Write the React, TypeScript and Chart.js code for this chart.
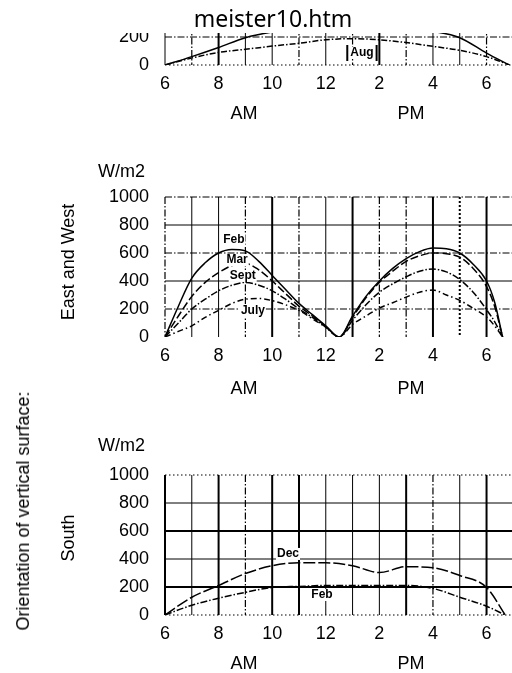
import React, { useEffect, useRef } from "react";
import { Chart, registerables } from "chart.js";
Chart.register(...registerables);

const FONT = "'Liberation Sans', Arial, sans-serif";

// Axis ticks
const xTickHours = [6, 8, 10, 12, 14, 16, 18];
const xTickLabels = ["6", "8", "10", "12", "2", "4", "6"];
const yTickValues = [0, 200, 400, 600, 800, 1000];
const yTickLabels = ["0", "200", "400", "600", "800", "1000"];
const gridHours = [6, 7, 8, 9, 10, 11, 12, 13, 14, 15, 16, 17, 18];

// Top panel (cropped) - August
const topHours = [6, 7, 8, 9, 10, 11, 12, 13, 14, 15, 16, 17, 18, 18.85];
const augSolid = [0, 60, 125, 195, 235, 260, 275, 280, 275, 265, 240, 195, 85, 0];
const augDashed = [0, 50, 90, 112, 135, 155, 180, 188, 180, 160, 133, 105, 60, 0];

// East and West
const ewHours = [6, 6.5, 7, 7.5, 8, 8.5, 9, 9.5, 10, 10.5, 11, 11.5, 12, 12.5, 13, 13.5, 14, 14.5, 15, 15.5, 16, 16.5, 17, 17.5, 18, 18.3, 18.6];
const ewFeb = [0, 220, 420, 530, 600, 625, 615, 540, 440, 340, 240, 160, 80, 0, 150, 290, 400, 490, 560, 610, 635, 630, 600, 520, 400, 250, 0];
const ewMar = [0, 150, 290, 390, 460, 510, 525, 480, 400, 310, 220, 150, 75, 0, 140, 280, 390, 470, 540, 580, 600, 595, 570, 490, 360, 220, 0];
const ewSept = [0, 100, 200, 270, 330, 370, 390, 370, 330, 270, 200, 140, 70, 0, 120, 230, 320, 380, 430, 470, 485, 465, 410, 320, 195, 110, 0];
const ewJuly = [0, 40, 80, 140, 190, 240, 270, 275, 260, 230, 190, 130, 70, 0, 90, 150, 207, 245, 285, 320, 335, 300, 262, 205, 143, 80, 0];

// South
const southHours = [6, 7, 8, 9, 10, 11, 12, 13, 14, 15, 16, 17, 18, 18.7];
const southDec = [0, 127, 211, 296, 352, 373, 373, 352, 303, 345, 338, 282, 197, 0];
const southFeb = [0, 70, 120, 162, 197, 204, 211, 211, 211, 211, 190, 127, 63, 0];

type GridStyle = "solid" | "thick" | "dashdot" | "dot" | "dotthick";
const DASH: Record<GridStyle, number[]> = {
  solid: [],
  thick: [],
  dashdot: [7, 2, 1.5, 2],
  dot: [1.5, 2.5],
  dotthick: [2, 2],
};
const WIDTH: Record<GridStyle, number> = {
  solid: 1,
  thick: 2,
  dashdot: 1.2,
  dot: 1.2,
  dotthick: 2,
};

const pts = (xs: number[], ys: number[]) => xs.map((x, i) => ({ x, y: ys[i] }));

function gridPlugin(vStyles: GridStyle[], hStyles: GridStyle[]) {
  return {
    id: "scanGrid",
    beforeDatasetsDraw(chart: any) {
      const { ctx, chartArea: a, scales } = chart;
      const x = scales.x;
      const y = scales.y;
      ctx.save();
      ctx.strokeStyle = "#000";
      gridHours.forEach((h, i) => {
        const s = vStyles[i];
        if (!s) return;
        const px = x.getPixelForValue(h);
        ctx.lineWidth = WIDTH[s];
        ctx.setLineDash(DASH[s]);
        ctx.beginPath();
        ctx.moveTo(px, a.top);
        ctx.lineTo(px, a.bottom);
        ctx.stroke();
      });
      yTickValues.forEach((v, i) => {
        const s = hStyles[i];
        if (!s) return;
        const py = y.getPixelForValue(v);
        ctx.lineWidth = WIDTH[s];
        ctx.setLineDash(DASH[s]);
        ctx.beginPath();
        ctx.moveTo(a.left, py);
        ctx.lineTo(a.right, py);
        ctx.stroke();
      });
      ctx.restore();
    },
  };
}

type Note = { text: string; x: number; y: number; box?: boolean };
function notePlugin(notes: Note[]) {
  return {
    id: "notes",
    afterDatasetsDraw(chart: any) {
      const { ctx, scales } = chart;
      ctx.save();
      ctx.font = `bold 12px ${FONT}`;
      ctx.textAlign = "center";
      ctx.textBaseline = "middle";
      notes.forEach((n) => {
        const px = scales.x.getPixelForValue(n.x);
        const py = scales.y.getPixelForValue(n.y);
        const w = ctx.measureText(n.text).width;
        ctx.fillStyle = "#fff";
        ctx.fillRect(px - w / 2 - 1, py - 6, w + 2, 12);
        if (n.box) {
          ctx.strokeStyle = "#000";
          ctx.lineWidth = 2;
          ctx.setLineDash([]);
          ctx.beginPath();
          ctx.moveTo(px - w / 2 - 3, py - 8);
          ctx.lineTo(px - w / 2 - 3, py + 8);
          ctx.moveTo(px + w / 2 + 3, py - 8);
          ctx.lineTo(px + w / 2 + 3, py + 8);
          ctx.stroke();
        }
        ctx.fillStyle = "#000";
        ctx.fillText(n.text, px, py);
      });
      ctx.restore();
    },
  };
}

function line(xs: number[], ys: number[], dash: number[], width = 1.5) {
  return {
    data: pts(xs, ys),
    borderColor: "#000",
    borderWidth: width,
    borderDash: dash,
    pointRadius: 0,
    cubicInterpolationMode: "monotone" as const,
    fill: false,
  };
}

function makeConfig(datasets: any[], vStyles: GridStyle[], hStyles: GridStyle[], notes: Note[]) {
  const tickFont = { family: FONT, size: 18 };
  return {
    type: "line" as const,
    data: { datasets },
    options: {
      animation: false,
      responsive: false,
      maintainAspectRatio: false,
      events: [],
      layout: { padding: { top: 47, left: 0, right: 0, bottom: 0 } },
      plugins: { legend: { display: false }, tooltip: { enabled: false } },
      scales: {
        x: {
          type: "linear",
          min: 6,
          max: 18.95,
          grid: { display: false, drawTicks: false },
          border: { display: false },
          afterBuildTicks: (s: any) => {
            s.ticks = xTickHours.map((v) => ({ value: v }));
          },
          afterFit: (s: any) => {
            s.height = 43;
          },
          ticks: {
            autoSkip: false,
            maxRotation: 0,
            padding: 8,
            color: "#000",
            font: tickFont,
            callback: (v: number) => {
              const i = xTickHours.indexOf(v);
              return i >= 0 ? xTickLabels[i] : "";
            },
          },
        },
        y: {
          type: "linear",
          min: 0,
          max: 1000,
          grid: { display: false, drawTicks: false },
          border: { display: false },
          afterBuildTicks: (s: any) => {
            s.ticks = yTickValues.map((v) => ({ value: v }));
          },
          afterFit: (s: any) => {
            s.width = 165;
          },
          ticks: {
            padding: 16,
            color: "#000",
            font: tickFont,
            callback: (v: number) => {
              const i = yTickValues.indexOf(v);
              return i >= 0 ? yTickLabels[i] : "";
            },
          },
        },
      },
    },
    plugins: [gridPlugin(vStyles, hStyles), notePlugin(notes)],
  };
}

function Panel({ config, top }: { config: any; top: number }) {
  const ref = useRef<HTMLCanvasElement>(null);
  useEffect(() => {
    const chart = new Chart(ref.current as HTMLCanvasElement, config);
    return () => chart.destroy();
  }, [config]);
  return (
    <canvas
      ref={ref}
      width={512}
      height={230}
      style={{ position: "absolute", left: 0, top, width: 512, height: 230 }}
    />
  );
}

const topConfig = makeConfig(
  [line(topHours, augSolid, []), line(topHours, augDashed, [6, 2, 1.5, 2])],
  ["solid", "dashdot", "thick", "solid", "solid", "dashdot", "solid", "dashdot", "thick", "dashdot", "solid", "solid", "dashdot"],
  ["dot", "dashdot", "dashdot", "solid", "dashdot", "dashdot"],
  [{ text: "Aug", x: 13.35, y: 86, box: true }]
);

const ewConfig = makeConfig(
  [
    line(ewHours, ewFeb, []),
    line(ewHours, ewMar, [8, 3]),
    line(ewHours, ewSept, [7, 2, 1.5, 2]),
    line(ewHours, ewJuly, [6, 3, 1.5, 3]),
  ],
  ["dashdot", "solid", "solid", "dashdot", "thick", "dashdot", "solid", "thick", "dashdot", "dashdot", "thick", "dotthick", "thick"],
  [undefined as any, "dashdot", "solid", "dashdot", "solid", "dashdot"],
  [
    { text: "Feb", x: 8.57, y: 693 },
    { text: "Mar", x: 8.69, y: 550 },
    { text: "Sept", x: 8.9, y: 436 },
    { text: "July", x: 9.28, y: 186 },
  ]
);

const southConfig = makeConfig(
  [line(southHours, southDec, [12, 3]), line(southHours, southFeb, [7, 2, 1.5, 2])],
  ["thick", "solid", "thick", "dashdot", "thick", "thick", "solid", "solid", "solid", "thick", "dashdot", "solid", "thick"],
  ["dot", "thick", "solid", "thick", "solid", "dot"],
  [
    { text: "Dec", x: 10.59, y: 436 },
    { text: "Feb", x: 11.86, y: 143 },
  ]
);

const txt = (extra: React.CSSProperties): React.CSSProperties => ({
  position: "absolute",
  fontFamily: FONT,
  fontSize: 18,
  color: "#000",
  whiteSpace: "nowrap",
  lineHeight: 1,
  ...extra,
});

const centered = (x: number, y: number, rotate = false): React.CSSProperties => ({
  left: x,
  top: y,
  transform: `translate(-50%, -50%)${rotate ? " rotate(-90deg)" : ""}`,
});

export default function App() {
  return (
    <div
      style={{
        position: "fixed",
        left: 0,
        top: 0,
        width: 512,
        height: 673,
        background: "#fff",
        overflow: "hidden",
      }}
    >
      <div style={{ position: "absolute", left: 0, top: 33, width: 512, height: 100, overflow: "hidden" }}>
        <Panel config={topConfig} top={-155} />
      </div>
      <Panel config={ewConfig} top={150} />
      <Panel config={southConfig} top={428} />

      <div style={txt({ fontFamily: "'Noto Sans', sans-serif", fontSize: 23, ...centered(273, 18) })}>meister10.htm</div>

      <div style={txt(centered(244, 113))}>AM</div>
      <div style={txt(centered(411, 113))}>PM</div>
      <div style={txt(centered(244, 388))}>AM</div>
      <div style={txt(centered(411, 388))}>PM</div>
      <div style={txt(centered(244, 663))}>AM</div>
      <div style={txt(centered(411, 663))}>PM</div>

      <div style={txt({ left: 98, top: 162 })}>W/m2</div>
      <div style={txt({ left: 98, top: 436 })}>W/m2</div>

      <div style={txt(centered(68, 262, true))}>East and West</div>
      <div style={txt(centered(68, 538, true))}>South</div>
      <div style={txt(centered(23, 511, true))}>Orientation of vertical surface:</div>
    </div>
  );
}
